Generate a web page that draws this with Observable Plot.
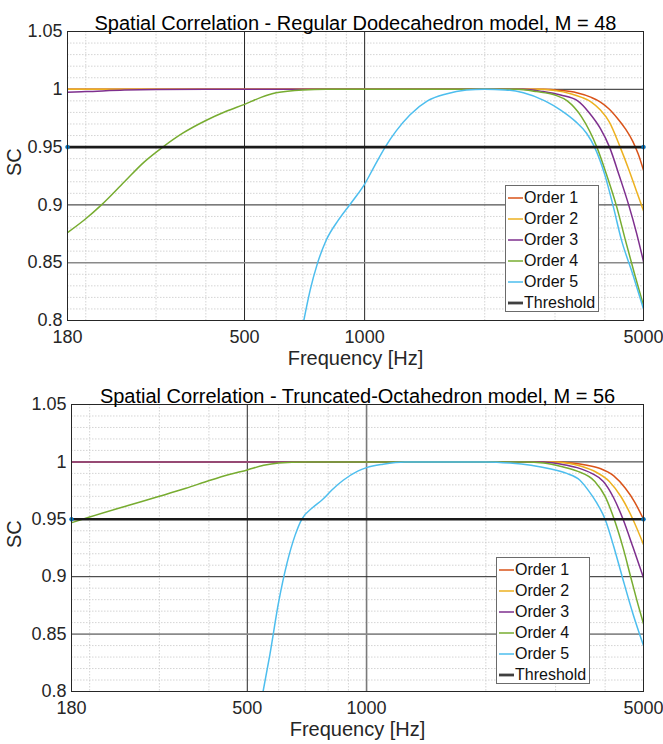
<!DOCTYPE html>
<html>
<head>
<meta charset="utf-8">
<script src="https://cdn.jsdelivr.net/npm/d3@7"></script>
<script src="https://cdn.jsdelivr.net/npm/@observablehq/plot@0.6"></script>
<style>
  body { margin: 0; background: #fff; font-family: "Liberation Sans", Arial, Helvetica, sans-serif; }
  .panel { position: relative; width: 663px; height: 372px; }
  .legend { position: absolute; background: #fff; border: 1px solid #6b6b6b; box-sizing: border-box; font-size: 16px; color: #111; }
  .legend .row { position: absolute; left: 0; height: 20px; display: flex; align-items: center; white-space: nowrap; }
  .legend svg { display: block; }
</style>
</head>
<body>
<div id="p1" class="panel"></div>
<div id="p2" class="panel"></div>
<script>
// ---------- shared ticks / labels ----------
const xTicks = [180, 500, 1000, 5000];
const xMinor = [200, 300, 400, 600, 700, 800, 900, 2000, 3000, 4000];
const yTicks = [0.8, 0.85, 0.9, 0.95, 1, 1.05];
const yMinor = [0.81,0.82,0.83,0.84,0.86,0.87,0.88,0.89,0.91,0.92,0.93,0.94,0.96,0.97,0.98,0.99,1.01,1.02,1.03,1.04];
const seriesNames = ["Order 1", "Order 2", "Order 3", "Order 4", "Order 5"];
const seriesColors = ["#D95319", "#EDB120", "#7E2F8E", "#77AC30", "#4DBEEE"];
const threshold = 0.95;
const titles = ["Spatial Correlation - Regular Dodecahedron model, M = 48",
                "Spatial Correlation - Truncated-Octahedron model, M = 56"];

// ---------- panel 1 : Regular Dodecahedron ----------
const p1o1F = [180, 1000, 2800, 3100, 3400, 3700, 3900, 4100, 4300, 4500, 4700, 4850, 5000];
const p1o1S = [1, 1, 1, 0.999, 0.997, 0.993, 0.989, 0.983, 0.975, 0.966, 0.955, 0.944, 0.930];
const p1o2F = [180, 1000, 2700, 3000, 3300, 3500, 3700, 3900, 4100, 4370, 4600, 4800, 5000];
const p1o2S = [1, 1, 1, 0.999, 0.996, 0.993, 0.989, 0.982, 0.972, 0.950, 0.930, 0.912, 0.895];
const p1o3F = [180, 200, 250, 300, 400, 1000, 2500, 2800, 3100, 3420, 3650, 3900, 4110, 4350, 4590, 4800, 5000];
const p1o3S = [0.9975, 0.998, 0.9993, 0.9998, 1, 1, 1, 0.998, 0.995, 0.990, 0.980, 0.966, 0.950, 0.925, 0.900, 0.876, 0.851];
const p1o4F = [180, 200, 219, 250, 280, 312, 350, 400, 450, 500, 550, 600, 700, 800, 2400, 2700, 3000, 3220, 3500, 3820, 4050, 4270, 4500, 4750, 5000];
const p1o4S = [0.876, 0.888, 0.900, 0.920, 0.937, 0.950, 0.962, 0.973, 0.981, 0.987, 0.993, 0.997, 0.9995, 1, 1, 0.998, 0.995, 0.990, 0.976, 0.950, 0.925, 0.900, 0.870, 0.840, 0.813];
const p1o5F = [704, 730, 761, 800, 860, 936, 1000, 1060, 1126, 1200, 1300, 1437, 1600, 1800, 2000, 2250, 2500, 2830, 3100, 3380, 3600, 3770, 4000, 4190, 4400, 4700, 5000];
const p1o5S = [0.800, 0.826, 0.849, 0.869, 0.887, 0.904, 0.918, 0.934, 0.950, 0.964, 0.978, 0.990, 0.996, 0.9993, 1.0, 0.9995, 0.997, 0.990, 0.982, 0.972, 0.962, 0.950, 0.926, 0.900, 0.870, 0.840, 0.810];

// ---------- panel 2 : Truncated Octahedron ----------
const p2o1F = [180, 1000, 3000, 3300, 3600, 3900, 4200, 4500, 4750, 5000];
const p2o1S = [1, 1, 1, 0.999, 0.997, 0.994, 0.988, 0.977, 0.965, 0.950];
const p2o2F = [180, 1000, 2900, 3200, 3500, 3800, 4100, 4400, 4700, 5000];
const p2o2S = [1, 1, 1, 0.999, 0.996, 0.991, 0.983, 0.969, 0.950, 0.928];
const p2o3F = [180, 1000, 2800, 3100, 3400, 3700, 3960, 4200, 4440, 4700, 5000];
const p2o3S = [1, 1, 1, 0.998, 0.995, 0.990, 0.983, 0.969, 0.950, 0.926, 0.899];
const p2o4F = [180, 200, 250, 300, 350, 403, 450, 500, 550, 600, 700, 800, 2500, 2800, 3100, 3400, 3768, 4000, 4217, 4450, 4640, 4850, 5000];
const p2o4S = [0.947, 0.952, 0.962, 0.970, 0.977, 0.984, 0.989, 0.993, 0.997, 0.999, 1, 1, 1, 0.999, 0.996, 0.992, 0.983, 0.970, 0.950, 0.924, 0.900, 0.875, 0.859];
const p2o5F = [548, 570, 600, 630, 660, 686, 730, 773, 820, 873, 950, 1000, 1100, 1250, 2000, 2300, 2600, 2900, 3200, 3456, 3632, 3800, 4000, 4200, 4418, 4700, 5000];
const p2o5S = [0.800, 0.832, 0.878, 0.912, 0.936, 0.950, 0.960, 0.967, 0.976, 0.984, 0.992, 0.995, 0.998, 1.0, 1.0, 0.999, 0.997, 0.994, 0.990, 0.984, 0.975, 0.965, 0.950, 0.927, 0.900, 0.868, 0.840];

function toRows(fs, ss, k) { return fs.map((f, i) => ({f, sc: ss[i], s: seriesNames[k]})); }

const panels = [
  { el: "p1", title: titles[0], ml: 67, mt: 31, mb: 52, grayX: [],
    legend: {left: 505, top: 185},
    series: [toRows(p1o1F,p1o1S,0), toRows(p1o2F,p1o2S,1), toRows(p1o3F,p1o3S,2), toRows(p1o4F,p1o4S,3), toRows(p1o5F,p1o5S,4)] },
  { el: "p2", title: titles[1], ml: 71, mt: 32, mb: 53, grayX: [1000],
    legend: {left: 496, top: 185},
    series: [toRows(p2o1F,p2o1S,0), toRows(p2o2F,p2o2S,1), toRows(p2o3F,p2o3S,2), toRows(p2o4F,p2o4S,3), toRows(p2o5F,p2o5S,4)] }
];

for (const P of panels) {
  const majorX = [500, 1000].filter(v => !P.grayX.includes(v));
  const chart = Plot.plot({
    width: 663, height: 372,
    marginLeft: P.ml, marginRight: 20, marginTop: P.mt, marginBottom: P.mb,
    style: { fontFamily: '"Liberation Sans", Arial, Helvetica, sans-serif', fontSize: "18px", color: "#262626", background: "#fff" },
    x: { type: "log", domain: [180, 5000] },
    y: { domain: [0.8, 1.05] },
    marks: [
      Plot.ruleX(xMinor, { stroke: "#c9c9c9", strokeWidth: 0.8, strokeDasharray: "1.5,1.5" }),
      Plot.ruleY(yMinor, { stroke: "#c9c9c9", strokeWidth: 0.8, strokeDasharray: "1.5,1.5" }),
      Plot.ruleX(majorX, { stroke: "#262626", strokeWidth: 1 }),
      Plot.ruleX(P.grayX, { stroke: "#7a7a7a", strokeWidth: 1.6 }),
      Plot.ruleY([0.9, 1.0], { stroke: "#262626", strokeWidth: 1 }),
      Plot.ruleY([0.85], { stroke: "#8a8a8a", strokeWidth: 1.6 }),
      ...P.series.map((rows, k) => Plot.line(rows, {
        x: "f", y: "sc", stroke: seriesColors[k], strokeWidth: 1.5, curve: "monotone-x", clip: true
      })),
      Plot.ruleY([threshold], { stroke: "#1a1a1a", strokeWidth: 2.6 }),
      Plot.dot([180, 5000], { x: d => d, y: () => threshold, r: 2, fill: "#0072BD", stroke: "#0072BD", strokeWidth: 0.5 }),
      Plot.frame({ stroke: "#262626", strokeWidth: 1 }),
      Plot.axisX({ ticks: xTicks, tickFormat: d => String(d), tickSize: 0, tickPadding: 10, label: null, fontSize: 18 }),
      Plot.axisY({ ticks: yTicks, tickFormat: d => String(d), tickSize: 0, tickPadding: 5, label: null, fontSize: 18 }),
      Plot.text([P.title], { text: d => d, frameAnchor: "top", dy: -16, fontSize: 20, fill: "#000" }),
      Plot.text(["Frequency [Hz]"], { text: d => d, frameAnchor: "bottom", dy: 44, fontSize: 20, fill: "#262626" }),
      Plot.text(["SC"], { text: d => d, frameAnchor: "left", dx: P.ml === 67 ? -53 : -57, rotate: -90, fontSize: 20, fill: "#262626" })
    ]
  });
  const host = document.getElementById(P.el);
  host.appendChild(chart);

  // legend box
  const lg = document.createElement("div");
  lg.className = "legend";
  lg.style.left = P.legend.left + "px";
  lg.style.top = P.legend.top + "px";
  lg.style.width = "94px";
  lg.style.height = "127px";
  const entries = seriesNames.map((n, i) => ({ n, c: seriesColors[i], w: 1.5 }))
    .concat([{ n: "Threshold", c: "#404040", w: 2.8 }]);
  entries.forEach((e, i) => {
    const row = document.createElement("div");
    row.className = "row";
    row.style.top = (2 + i * 21) + "px";
    row.innerHTML = `<svg width="18" height="20"><line x1="2" x2="17" y1="10" y2="10" stroke="${e.c}" stroke-width="${e.w}"/></svg><span>${e.n}</span>`;
    lg.appendChild(row);
  });
  host.appendChild(lg);
}
</script>
</body>
</html>
